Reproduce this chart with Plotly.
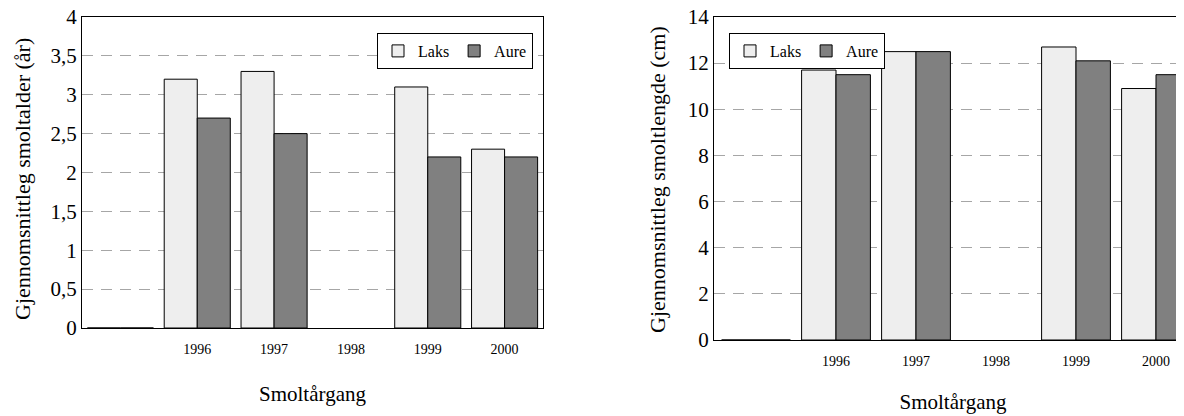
import plotly.graph_objects as go

# ---- data ----
years = ["", "1996", "1997", "1998", "1999", "2000"]
laks_alder = [0, 3.2, 3.3, None, 3.1, 2.3]
aure_alder = [0, 2.7, 2.5, None, 2.2, 2.2]
laks_lengde = [0, 11.7, 12.5, None, 12.7, 10.9]
aure_lengde = [0, 11.5, 12.5, None, 12.1, 11.5]
alder_ticks = [0, 0.5, 1, 1.5, 2, 2.5, 3, 3.5, 4]
alder_ticktext = ["0", "0,5", "1", "1,5", "2", "2,5", "3", "3,5", "4"]
lengde_ticks = [0, 2, 4, 6, 8, 10, 12, 14]
x_title = "Smoltårgang"
y_title_left = "Gjennomsnittleg smoltalder (år)"
y_title_right = "Gjennomsnittleg smoltlengde (cm)"

W, H = 1184, 416
OFF = 8  # page body margin offset
FONT = "Liberation Serif, Times New Roman, serif"
LAKS_C = "#eeeeee"
AURE_C = "#808080"
idx = list(range(len(years)))


def px(x):
    return (x - OFF) / W


def py(y):
    return (H - (y - OFF)) / H


fig = go.Figure()
fig.add_trace(go.Bar(x=idx, y=laks_alder, name="Laks", xaxis="x", yaxis="y",
                     marker=dict(color=LAKS_C, line=dict(color="black", width=1)),
                     legend="legend"))
fig.add_trace(go.Bar(x=idx, y=aure_alder, name="Aure", xaxis="x", yaxis="y",
                     marker=dict(color=AURE_C, line=dict(color="black", width=1)),
                     legend="legend"))
fig.add_trace(go.Bar(x=idx, y=laks_lengde, name="Laks", xaxis="x2", yaxis="y2",
                     marker=dict(color=LAKS_C, line=dict(color="black", width=1)),
                     legend="legend2"))
fig.add_trace(go.Bar(x=idx, y=aure_lengde, name="Aure", xaxis="x2", yaxis="y2",
                     marker=dict(color=AURE_C, line=dict(color="black", width=1)),
                     legend="legend2"))

grid = dict(showgrid=True, gridcolor="#a6a6a6", griddash="11px,8px", gridwidth=1)
xcommon = dict(tickvals=idx, ticktext=years, showline=True, mirror=True,
               linecolor="black", linewidth=1, showgrid=False, zeroline=False,
               ticks="", ticklabelstandoff=8, automargin=False,
               tickfont=dict(family=FONT, size=14, color="black"))
ycommon = dict(showline=True, linecolor="black", linewidth=1,
               zeroline=False, ticks="", automargin=False,
               ticklabeloverflow="allow",
               tickfont=dict(family=FONT, size=21, color="black"))
leg = dict(orientation="h", bgcolor="white", bordercolor="black", borderwidth=1,
           font=dict(family=FONT, size=16, color="black"), itemwidth=30,
           tracegroupgap=0, yanchor="top", y=py(33))

fig.update_layout(
    width=W, height=H, autosize=False,
    margin=dict(l=0, r=0, t=0, b=0),
    paper_bgcolor="white", plot_bgcolor="white",
    font=dict(family=FONT, color="black"),
    barmode="group", bargap=0.14, bargroupgap=0,
    xaxis=dict(domain=[px(82), px(543)], range=[-0.5, 5.5], anchor="y",
               title=dict(text=x_title, font=dict(family=FONT, size=21), standoff=30),
               **xcommon),
    yaxis=dict(domain=[py(328), py(17)], range=[0, 4], anchor="x",
               tickvals=alder_ticks, ticktext=alder_ticktext, mirror=True,
               **ycommon, **grid),
    xaxis2=dict(domain=[px(714), 1.0], range=[-0.525, 5.45], anchor="y2",
                title=dict(text=x_title, font=dict(family=FONT, size=21), standoff=26),
                **xcommon),
    yaxis2=dict(domain=[py(340), py(17)], range=[0, 14], anchor="x2",
                tickvals=lengde_ticks, mirror=False,
                **ycommon, **grid),
    legend=dict(x=px(533), xanchor="right", **leg),
    legend2=dict(x=px(729), xanchor="left", **leg),
    annotations=[
        dict(text=y_title_left, xref="paper", yref="paper", x=px(22), y=py(179),
             xanchor="center", yanchor="middle", textangle=-90, showarrow=False,
             font=dict(family=FONT, size=22, color="black")),
        dict(text=y_title_right, xref="paper", yref="paper", x=px(657), y=py(180),
             xanchor="center", yanchor="middle", textangle=-90, showarrow=False,
             font=dict(family=FONT, size=22, color="black")),
    ],
)

fig.write_html("out.html")
